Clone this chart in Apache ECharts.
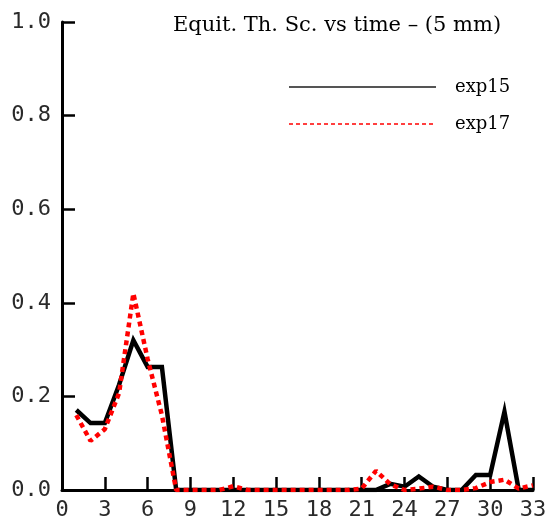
<!DOCTYPE html>
<html>
<head>
<meta charset="utf-8">
<script src="https://cdn.jsdelivr.net/npm/echarts@6/dist/echarts.min.js"></script>
<style>html,body{margin:0;padding:0;background:#fff;}#c{width:553px;height:526px;}</style>
</head>
<body>
<div id="c"></div>
<script>
var titleText = 'Equit. Th. Sc. vs time \u2013 (5 mm)';
var seriesNames = ['exp15', 'exp17'];
var times = [1,2,3,4,5,6,7,8,9,10,11,12,13,14,15,16,17,18,19,20,21,22,23,24,25,26,27,28,29,30,31,32,33];
var exp15 = [0.171,0.143,0.143,0.225,0.32,0.263,0.263,0,0,0,0,0,0,0,0,0,0,0,0,0,0,0,0.013,0.007,0.029,0.007,0,0,0.032,0.032,0.167,0,0];
var exp17 = [0.16,0.105,0.13,0.207,0.42,0.28,0.16,0,0,0,0,0.008,0,0,0,0,0,0,0,0,0.003,0.041,0.012,0,0.003,0.007,0,0,0.004,0.017,0.022,0.003,0.01];
var xTicks = {min: 0, max: 33, step: 3};
var yTicks = {min: 0, max: 1, step: 0.2};

function pairs(xs, ys) { return xs.map(function (x, i) { return [x, ys[i]]; }); }

var chart = echarts.init(document.getElementById('c'));
var axisFont = {fontFamily: 'DejaVu Sans Mono', fontSize: 22, color: '#2a2a2a'};
var hidden = {color: 'rgba(0,0,0,0)', borderColor: 'rgba(0,0,0,0)', borderWidth: 0, opacity: 0};
chart.setOption({
  backgroundColor: '#fff',
  animation: false,
  title: {
    text: titleText,
    left: 168,
    top: 10,
    textStyle: {fontFamily: 'DejaVu Serif', fontSize: 21, fontWeight: 'normal', color: '#000'}
  },
  legend: {
    orient: 'vertical',
    left: 283,
    top: 73,
    itemWidth: 147,
    itemHeight: 20,
    itemGap: 19,
    textStyle: {fontFamily: 'DejaVu Serif', fontSize: 18, color: '#000', padding: [0, 0, 0, 14]},
    data: [
      {name: seriesNames[0], itemStyle: hidden, lineStyle: {color: '#555', width: 2, type: 'solid'}},
      {name: seriesNames[1], itemStyle: hidden, lineStyle: {color: '#ff0000', width: 1.5, type: [4, 3]}}
    ]
  },
  grid: {left: 62, right: 20, top: 22, bottom: 36, containLabel: false},
  xAxis: {
    type: 'value',
    min: xTicks.min, max: xTicks.max, interval: xTicks.step,
    axisLine: {lineStyle: {color: '#000', width: 3}},
    axisTick: {inside: true, length: 13, lineStyle: {color: '#000', width: 2.5}},
    axisLabel: Object.assign({margin: 9, showMinLabel: true, showMaxLabel: true}, axisFont),
    splitLine: {show: false}
  },
  yAxis: {
    type: 'value',
    min: yTicks.min, max: yTicks.max, interval: yTicks.step,
    axisLine: {show: true, lineStyle: {color: '#000', width: 3}},
    axisTick: {show: true, inside: true, length: 13, lineStyle: {color: '#000', width: 2.5}},
    axisLabel: Object.assign({margin: 11, formatter: function (v) { return v.toFixed(1); }}, axisFont),
    splitLine: {show: false}
  },
  series: [
    {
      name: seriesNames[0], type: 'line', data: pairs(times, exp15),
      symbol: 'none', lineStyle: {color: '#000', width: 4.5, join: 'miter'}, itemStyle: {color: '#000'}
    },
    {
      name: seriesNames[1], type: 'line', data: pairs(times, exp17),
      symbol: 'none', lineStyle: {color: '#ff0000', width: 4.5, type: [5, 4], cap: 'butt'}, itemStyle: {color: '#ff0000'}
    }
  ]
});
</script>
</body>
</html>
